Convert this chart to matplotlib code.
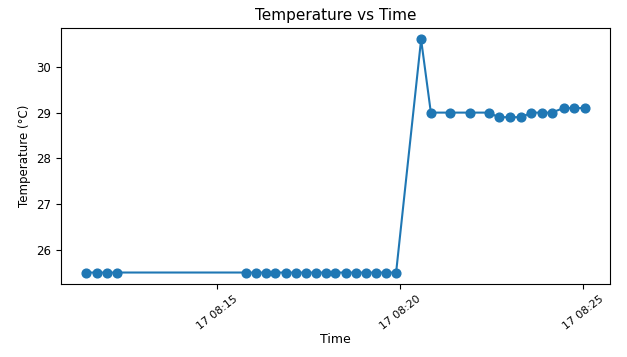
import matplotlib
matplotlib.use('Agg')
import matplotlib.pyplot as plt
import matplotlib.dates as mdates
import pandas as pd

# times (day 17)
times = ['08:11:24', '08:11:43', '08:11:59', '08:12:15',
         '08:15:46', '08:16:03', '08:16:20', '08:16:35', '08:16:52', '08:17:08',
         '08:17:25', '08:17:41', '08:17:58', '08:18:13', '08:18:30', '08:18:47',
         '08:19:03', '08:19:20', '08:19:36', '08:19:53',
         '08:20:34', '08:20:50', '08:21:22', '08:21:54', '08:22:25', '08:22:41',
         '08:22:59', '08:23:18', '08:23:35', '08:23:52', '08:24:08', '08:24:28',
         '08:24:44', '08:25:03']
temps = [25.5, 25.5, 25.5, 25.5,
         25.5, 25.5, 25.5, 25.5, 25.5, 25.5, 25.5, 25.5, 25.5, 25.5, 25.5, 25.5,
         25.5, 25.5, 25.5, 25.5,
         30.6, 29.0, 29.0, 29.0, 29.0, 28.9, 28.9, 28.9, 29.0, 29.0, 29.0,
         29.1, 29.1, 29.1]

df = pd.DataFrame({'time': pd.to_datetime(['2024-05-17 ' + t for t in times]),
                   'temp': temps})

fig, ax = plt.subplots(figsize=(6.27, 3.57), dpi=100)
fig.subplots_adjust(left=0.097, right=0.973, top=0.922, bottom=0.204)

ax.plot(df.time, df.temp, marker='o', color='#1f77b4', markersize=6.3, linewidth=1.5)

ax.xaxis.set_major_locator(mdates.MinuteLocator(byminute=[15, 20, 25]))
ax.xaxis.set_major_formatter(mdates.DateFormatter('%d %H:%M'))
plt.setp(ax.get_xticklabels(), rotation=38, ha='center')
ax.set_yticks([26, 27, 28, 29, 30])
ax.tick_params(labelsize=8.5)
ax.tick_params(axis='x', labelsize=7.8)

ax.set_title('Temperature vs Time', fontsize=11)
ax.set_xlabel('Time', fontsize=9, labelpad=1)
ax.set_ylabel('Temperature (°C)', fontsize=8.5)

fig.savefig('out.png', dpi=100)
